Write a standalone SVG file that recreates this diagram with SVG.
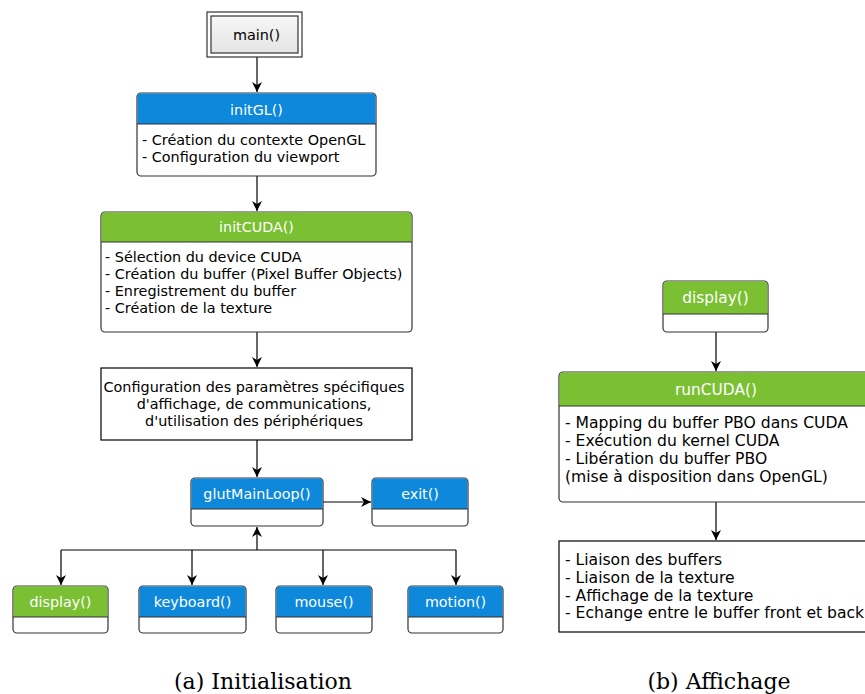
<svg xmlns="http://www.w3.org/2000/svg" width="865" height="694" viewBox="0 0 865 694">
<defs>
<linearGradient id="g" x1="0" y1="0" x2="0" y2="1"><stop offset="0" stop-color="#f7f7f7"/><stop offset="1" stop-color="#e4e4e4"/></linearGradient>
<marker id="ah" viewBox="0 0 10 10" refX="10" refY="5" markerWidth="10" markerHeight="10" markerUnits="userSpaceOnUse" orient="auto"><path d="M0,0 L10,5 L0,10 L3,5 Z" fill="#000"/></marker>
<style>
.box{fill:#fff;stroke:#333;stroke-width:1.2}
.blue{fill:#0d88db}
.green{fill:#7bbf33}
.sep{stroke:#333;stroke-width:1.2}
.t{font-family:"DejaVu Sans",sans-serif;font-size:14.4px;fill:#000}
.h{font-family:"DejaVu Sans",sans-serif;font-size:14.3px;fill:#fff;text-anchor:middle}
.tr{font-family:"DejaVu Sans",sans-serif;font-size:15.6px;fill:#000}
.hr{font-family:"DejaVu Sans",sans-serif;font-size:15.4px;fill:#fff;text-anchor:middle}
.c{font-family:"DejaVu Serif",serif;font-size:22px;fill:#000;text-anchor:middle}
.ln{fill:none;stroke:#000;stroke-width:1.2}
</style>
</defs>
<rect width="865" height="694" fill="#fff"/>
<g id="connectors">
<path class="ln" d="M257,57 V92" marker-end="url(#ah)"/>
<path class="ln" d="M257,176 V211" marker-end="url(#ah)"/>
<path class="ln" d="M257,332 V367" marker-end="url(#ah)"/>
<path class="ln" d="M257,440 V477" marker-end="url(#ah)"/>
<path class="ln" d="M323,502 H371" marker-end="url(#ah)"/>
<path class="ln" d="M257,550 V527" marker-end="url(#ah)"/>
<path class="ln" d="M61,550 H456"/>
<path class="ln" d="M61,550 V585" marker-end="url(#ah)"/>
<path class="ln" d="M192,550 V585" marker-end="url(#ah)"/>
<path class="ln" d="M323,550 V585" marker-end="url(#ah)"/>
<path class="ln" d="M456,550 V585" marker-end="url(#ah)"/>
<path class="ln" d="M716,332 V371" marker-end="url(#ah)"/>
<path class="ln" d="M716,502 V540" marker-end="url(#ah)"/>
</g>
<g id="main">
<rect x="207" y="12" width="95" height="45" fill="#fff" stroke="#333" stroke-width="1.2"/>
<rect x="211" y="16" width="87" height="37" fill="url(#g)" stroke="#333" stroke-width="1.2"/>
<text class="t" x="256.5" y="40" text-anchor="middle">main()</text>
</g>
<g id="initGL">
<rect class="box" x="137" y="93" width="239" height="83" rx="4"/>
<path class="blue" d="M141,93.6 H372 A3.4,3.4 0 0 1 375.4,97 V124 H137.6 V97 A3.4,3.4 0 0 1 141,93.6 Z"/>
<line class="sep" x1="137" y1="124" x2="376" y2="124"/>
<text class="h" x="256.5" y="114.5">initGL()</text>
<text class="t" x="142" y="145">- Création du contexte OpenGL</text>
<text class="t" x="142" y="162">- Configuration du viewport</text>
</g>
<g id="initCUDA">
<rect class="box" x="101" y="212" width="311" height="120" rx="4"/>
<path class="green" d="M105,212.6 H408 A3.4,3.4 0 0 1 411.4,216 V242 H101.6 V216 A3.4,3.4 0 0 1 105,212.6 Z"/>
<line class="sep" x1="101" y1="242" x2="412" y2="242"/>
<text class="h" x="256.5" y="232">initCUDA()</text>
<text class="t" x="105" y="262">- Sélection du device CUDA</text>
<text class="t" x="105" y="279">- Création du buffer (Pixel Buffer Objects)</text>
<text class="t" x="105" y="296">- Enregistrement du buffer</text>
<text class="t" x="105" y="313">- Création de la texture</text>
</g>
<g id="config">
<rect x="101" y="368" width="311" height="72" fill="#fff" stroke="#000" stroke-width="1.2"/>
<text class="t" x="254" y="392" text-anchor="middle">Configuration des paramètres spécifiques</text>
<text class="t" x="254" y="409" text-anchor="middle">d'affichage, de communications,</text>
<text class="t" x="254" y="425.5" text-anchor="middle">d'utilisation des périphériques</text>
</g>
<g id="glutMainLoop">
<rect class="box" x="191" y="478" width="132" height="48" rx="4"/>
<path class="blue" d="M195,478.6 H319 A3.4,3.4 0 0 1 322.4,482 V509 H191.6 V482 A3.4,3.4 0 0 1 195,478.6 Z"/>
<line class="sep" x1="191" y1="509" x2="323" y2="509"/>
<text class="h" x="257" y="499">glutMainLoop()</text>
</g>
<g id="exit">
<rect class="box" x="372" y="478" width="96" height="48" rx="4"/>
<path class="blue" d="M376,478.6 H464 A3.4,3.4 0 0 1 467.4,482 V509 H372.6 V482 A3.4,3.4 0 0 1 376,478.6 Z"/>
<line class="sep" x1="372" y1="509" x2="468" y2="509"/>
<text class="h" x="420" y="499">exit()</text>
</g>
<g id="display1">
<rect class="box" x="13" y="586" width="95" height="47" rx="4"/>
<path class="green" d="M17,586.6 H104 A3.4,3.4 0 0 1 107.4,590 V617 H13.6 V590 A3.4,3.4 0 0 1 17,586.6 Z"/>
<line class="sep" x1="13" y1="617" x2="108" y2="617"/>
<text class="h" x="60.5" y="607">display()</text>
</g>
<g id="keyboard">
<rect class="box" x="139" y="586" width="107" height="47" rx="4"/>
<path class="blue" d="M143,586.6 H242 A3.4,3.4 0 0 1 245.4,590 V617 H139.6 V590 A3.4,3.4 0 0 1 143,586.6 Z"/>
<line class="sep" x1="139" y1="617" x2="246" y2="617"/>
<text class="h" x="192.5" y="607">keyboard()</text>
</g>
<g id="mouse">
<rect class="box" x="276" y="586" width="96" height="47" rx="4"/>
<path class="blue" d="M280,586.6 H368 A3.4,3.4 0 0 1 371.4,590 V617 H276.6 V590 A3.4,3.4 0 0 1 280,586.6 Z"/>
<line class="sep" x1="276" y1="617" x2="372" y2="617"/>
<text class="h" x="324" y="607">mouse()</text>
</g>
<g id="motion">
<rect class="box" x="408" y="586" width="95" height="47" rx="4"/>
<path class="blue" d="M412,586.6 H499 A3.4,3.4 0 0 1 502.4,590 V617 H408.6 V590 A3.4,3.4 0 0 1 412,586.6 Z"/>
<line class="sep" x1="408" y1="617" x2="503" y2="617"/>
<text class="h" x="455.5" y="607">motion()</text>
</g>
<g id="display2">
<rect class="box" x="663" y="281" width="105" height="51" rx="4"/>
<path class="green" d="M667,281.6 H764 A3.4,3.4 0 0 1 767.4,285 V314 H663.6 V285 A3.4,3.4 0 0 1 667,281.6 Z"/>
<line class="sep" x1="663" y1="314" x2="768" y2="314"/>
<text class="hr" x="715.5" y="303">display()</text>
</g>
<g id="runCUDA">
<rect class="box" x="559" y="372" width="320" height="130" rx="4"/>
<path class="green" d="M563,372.6 H875 V406 H559.6 V376 A3.4,3.4 0 0 1 563,372.6 Z"/>
<line class="sep" x1="559" y1="406" x2="879" y2="406"/>
<text class="hr" x="716" y="395">runCUDA()</text>
<text class="tr" x="565" y="428">- Mapping du buffer PBO dans CUDA</text>
<text class="tr" x="565" y="446">- Exécution du kernel CUDA</text>
<text class="tr" x="565" y="464">- Libération du buffer PBO</text>
<text class="tr" x="565" y="482">(mise à disposition dans OpenGL)</text>
</g>
<g id="swap">
<rect x="559" y="541" width="320" height="91" fill="#fff" stroke="#000" stroke-width="1.2"/>
<text class="tr" x="565" y="565">- Liaison des buffers</text>
<text class="tr" x="565" y="583">- Liaison de la texture</text>
<text class="tr" x="565" y="601">- Affichage de la texture</text>
<text class="tr" x="565" y="618">- Echange entre le buffer front et back</text>
</g>
<text class="c" x="263" y="689">(a) Initialisation</text>
<text class="c" x="719" y="689">(b) Affichage</text>
</svg>
